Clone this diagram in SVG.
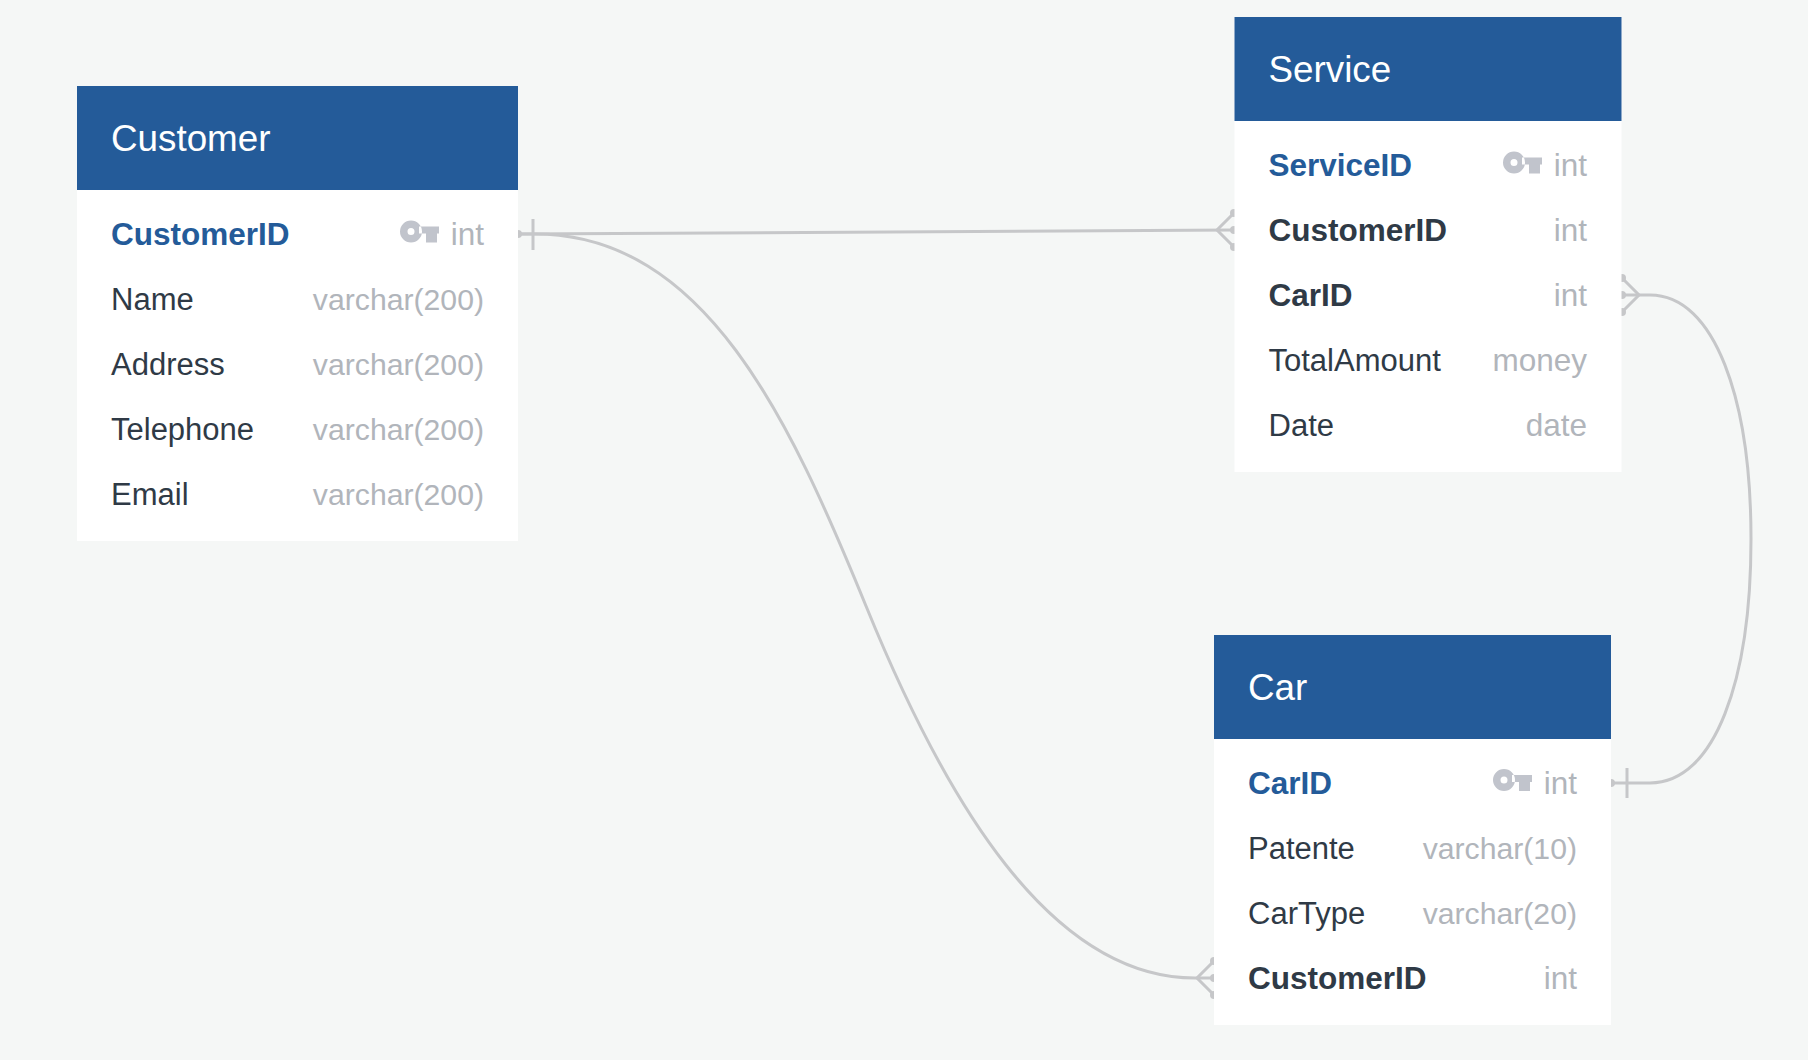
<svg xmlns="http://www.w3.org/2000/svg" width="1808" height="1060" viewBox="0 0 1808 1060">
<style>
text{font-family:"Liberation Sans",Arial,sans-serif}
.body{fill:#fff}
.head{fill:#245b99}
.title{font-size:36.8px;fill:#fff}
.f{font-size:31px;fill:#2f3a46}
.b{font-weight:700;font-size:31.500px}
.pk{font-weight:700;font-size:31.500px;fill:#245b99}
.t{font-size:31.500px;fill:#b1b5bb;text-anchor:end}
.v{font-size:30.200px}
.key{fill:#c1c4cc}
.c{fill:none;stroke:#c6c7c9;stroke-width:3}
.d{fill:#c6c7c9}
</style>
<defs>
<path id="k" class="key" fill-rule="evenodd" d="M0-11a11 11 0 1 1 0 22a11 11 0 0 1 0-22ZM0-3.500a3.500 3.500 0 1 0 0 7a3.500 3.500 0 0 0 0-7ZM8-5H28V2H26V11H15V2H8Z"/>
</defs>
<rect width="1808" height="1060" fill="#f5f7f6"/>
<g id="connectors">
<path class="c" d="M518,234L1234,230"/>
<path class="c" d="M518,234H535C705,234 790,420 866,606C945,800 1050,978 1195,978H1214"/>
<path class="c" d="M1622,295H1650C1715,295 1751,400 1751,539C1751,680 1715,783 1650,783H1611"/>
<path class="c" d="M533,219V250M1627,768V798"/>
<path class="c" d="M1234,213L1217,230L1234,247M1214,961L1197,978L1214,995M1622,278L1639,295L1622,312"/>
<g class="d">
<circle cx="518" cy="234" r="4"/><circle cx="1611" cy="783" r="4"/>
<circle cx="1234" cy="213" r="4"/><circle cx="1234" cy="230" r="4"/><circle cx="1234" cy="247" r="4"/>
<circle cx="1214" cy="961" r="4"/><circle cx="1214" cy="978" r="4"/><circle cx="1214" cy="995" r="4"/>
<circle cx="1622" cy="278" r="4"/><circle cx="1622" cy="295" r="4"/><circle cx="1622" cy="312" r="4"/>
</g>
</g>
<g id="customer">
<rect class="body" x="77" y="86" width="441" height="455"/>
<rect class="head" x="77" y="86" width="441" height="104"/>
<text class="title" x="111" y="151">Customer</text>
<text class="f pk" x="111" y="245">CustomerID</text>
<use href="#k" x="411" y="231.500"/>
<text class="t" x="484" y="245">int</text>
<text class="f" x="111" y="310">Name</text><text class="t v" x="484" y="310">varchar(200)</text>
<text class="f" x="111" y="375">Address</text><text class="t v" x="484" y="375">varchar(200)</text>
<text class="f" x="111" y="440">Telephone</text><text class="t v" x="484" y="440">varchar(200)</text>
<text class="f" x="111" y="505">Email</text><text class="t v" x="484" y="505">varchar(200)</text>
</g>
<g id="service">
<rect class="body" x="1234.500" y="17" width="387" height="455"/>
<rect class="head" x="1234.500" y="17" width="387" height="104"/>
<text class="title" x="1268.500" y="82">Service</text>
<text class="f pk" x="1268.500" y="176">ServiceID</text>
<use href="#k" x="1514" y="162.500"/>
<text class="t" x="1587" y="176">int</text>
<text class="f b" x="1268.500" y="241">CustomerID</text><text class="t" x="1587" y="241">int</text>
<text class="f b" x="1268.500" y="306">CarID</text><text class="t" x="1587" y="306">int</text>
<text class="f" x="1268.500" y="371">TotalAmount</text><text class="t" x="1587" y="371">money</text>
<text class="f" x="1268.500" y="436">Date</text><text class="t" x="1587" y="436">date</text>
</g>
<g id="car">
<rect class="body" x="1214" y="635" width="397" height="390"/>
<rect class="head" x="1214" y="635" width="397" height="104"/>
<text class="title" x="1248" y="700">Car</text>
<text class="f pk" x="1248" y="794">CarID</text>
<use href="#k" x="1504" y="780"/>
<text class="t" x="1577" y="794">int</text>
<text class="f" x="1248" y="859">Patente</text><text class="t v" x="1577" y="859">varchar(10)</text>
<text class="f" x="1248" y="924">CarType</text><text class="t v" x="1577" y="924">varchar(20)</text>
<text class="f b" x="1248" y="989">CustomerID</text><text class="t" x="1577" y="989">int</text>
</g>
</svg>
